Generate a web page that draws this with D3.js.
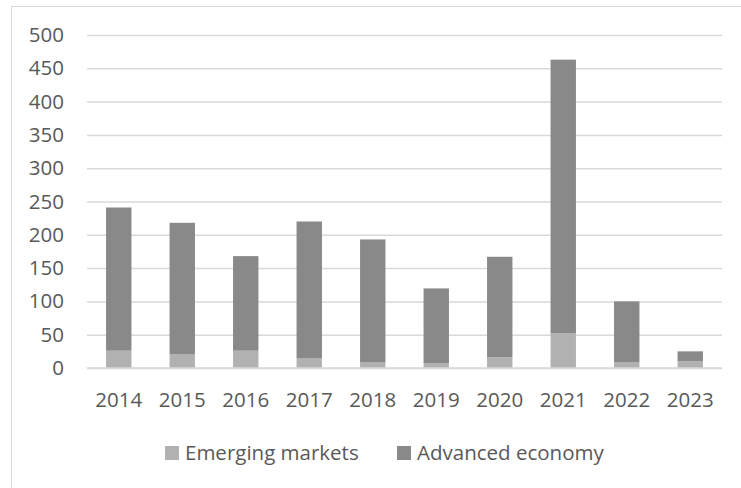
<!DOCTYPE html>
<html>
<head>
<meta charset="utf-8">
<script src="https://cdn.jsdelivr.net/npm/d3@7"></script>
<style>
  body { margin: 0; background: #fff; }
  text { font-family: "Open Sans", sans-serif; fill: #595959; }
</style>
</head>
<body>
<script>
var years = ["2014", "2015", "2016", "2017", "2018", "2019", "2020", "2021", "2022", "2023"];
var emerging = [26, 21, 26, 15, 9, 7.5, 16, 52, 9, 10];
var advanced = [215, 197, 142, 205, 184, 112, 151, 411, 91, 15];
var seriesNames = ["Emerging markets", "Advanced economy"];
var seriesColors = ["#b1b1b1", "#898989"];
var yTicks = [0, 50, 100, 150, 200, 250, 300, 350, 400, 450, 500];

var totalWidth = 741;
var totalHeight = 488;
var margin = {top: 35, left: 87, bottom: 120, right: 19};
var fontSize = "20.5px";

var svg = d3.select("body")
    .append("svg")
    .attr("width", totalWidth)
    .attr("height", totalHeight);

// chart area border (only top/left visible in the frame)
svg.append("rect")
    .attr("x", 11.5).attr("y", 6.5)
    .attr("width", 740).attr("height", 500)
    .attr("fill", "none")
    .attr("stroke", "#d9d9d9")
    .attr("stroke-width", 1);

var rows = years.map(function(y, i) {
  return {year: y, "Emerging markets": emerging[i], "Advanced economy": advanced[i]};
});

var xScale = d3.scaleBand()
    .domain(years)
    .range([margin.left, totalWidth - margin.right])
    .paddingInner(0.6)
    .paddingOuter(0.3);

var yScale = d3.scaleLinear()
    .domain([0, 500])
    .range([368, margin.top]);

// gridlines + y labels
var yAxis = d3.axisLeft(yScale)
    .tickValues(yTicks)
    .tickSize(-(totalWidth - margin.right - margin.left))
    .tickPadding(23);

var yg = svg.append("g")
    .attr("transform", "translate(" + margin.left + ",0)")
    .call(yAxis);
yg.select(".domain").remove();
yg.selectAll(".tick line").attr("stroke", "#d9d9d9").attr("stroke-width", 1.5);
yg.selectAll(".tick text").style("font-size", fontSize).attr("fill", "#595959");

var stack = d3.stack().keys(seriesNames);
var layers = stack(rows);

svg.append("g").selectAll("g")
    .data(layers)
    .join("g")
    .attr("fill", function(d, i) { return seriesColors[i]; })
    .selectAll("rect")
    .data(function(d) { return d; })
    .join("rect")
    .attr("x", function(d) { return xScale(d.data.year); })
    .attr("width", xScale.bandwidth())
    .attr("y", function(d) { return yScale(d[1]); })
    .attr("height", function(d) { return yScale(d[0]) - yScale(d[1]); });

// baseline
svg.append("line")
    .attr("x1", margin.left).attr("x2", totalWidth - margin.right)
    .attr("y1", yScale(0)).attr("y2", yScale(0))
    .attr("stroke", "#d9d9d9").attr("stroke-width", 1.5);

var xAxis = d3.axisBottom(xScale).tickSize(0).tickPadding(24);
var xg = svg.append("g")
    .attr("transform", "translate(0," + yScale(0) + ")")
    .call(xAxis);
xg.select(".domain").remove();
xg.selectAll(".tick text").style("font-size", fontSize).attr("fill", "#595959");

// legend
var legendX = [165, 397];
var legend = svg.append("g").selectAll("g")
    .data(seriesNames)
    .join("g")
    .attr("transform", function(d, i) { return "translate(" + legendX[i] + ",446)"; });
legend.append("rect")
    .attr("width", 14).attr("height", 14)
    .attr("fill", function(d, i) { return seriesColors[i]; });
legend.append("text")
    .attr("x", 20).attr("y", 7)
    .attr("dy", "0.35em")
    .style("font-size", fontSize)
    .text(function(d) { return d; });
</script>
</body>
</html>
